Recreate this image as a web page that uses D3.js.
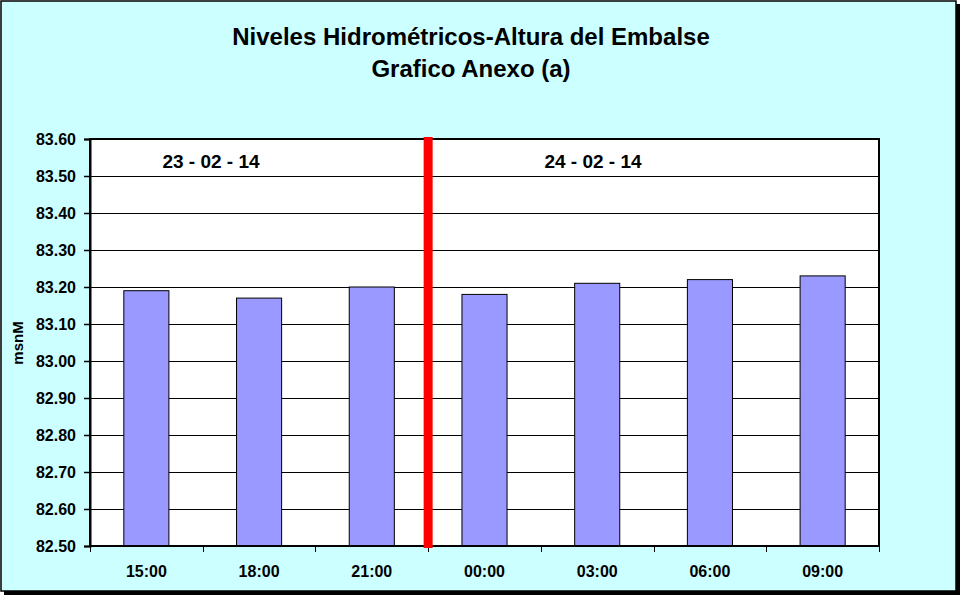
<!DOCTYPE html>
<html><head><meta charset="utf-8">
<script src="https://cdn.jsdelivr.net/npm/d3@7"></script>
<style>html,body{margin:0;padding:0;background:#fff;}svg{display:block;font-family:"Liberation Sans",Arial,sans-serif;}</style>
</head><body>
<svg id="c" width="962" height="597"></svg>
<script>
const categories = ["15:00","18:00","21:00","00:00","03:00","06:00","09:00"];
const values = [83.19, 83.17, 83.20, 83.18, 83.21, 83.22, 83.23];
const yTicks = [82.5,82.6,82.7,82.8,82.9,83.0,83.1,83.2,83.3,83.4,83.5,83.6];
const dateLabels = ["23 - 02 - 14", "24 - 02 - 14"];
const titleLines = ["Niveles Hidrométricos-Altura del Embalse", "Grafico Anexo (a)"];
const yLabel = "msnM";

const svg = d3.select("#c");
svg.append("rect").attr("x",4).attr("y",4).attr("width",956).attr("height",591).attr("fill","#000");
svg.append("rect").attr("x",1).attr("y",1).attr("width",955).attr("height",590).attr("fill","#ccffff").attr("stroke","#000").attr("stroke-width",1.5);

const m = {l:90, r:879, t:139, b:546};
const x = d3.scaleBand().domain(categories).range([m.l, m.r]).paddingInner(0.6).paddingOuter(0.3);
const xb = d3.scaleBand().domain(categories).range([m.l, m.r]);
const y = d3.scaleLinear().domain([82.5, 83.6]).range([m.b, m.t]);

svg.append("rect").attr("x",m.l).attr("y",m.t).attr("width",m.r-m.l).attr("height",m.b-m.t).attr("fill","#fff");

svg.append("g").selectAll("line").data(yTicks.slice(1,-1)).join("line")
  .attr("x1",m.l).attr("x2",m.r).attr("y1",d=>Math.round(y(d))+0.5).attr("y2",d=>Math.round(y(d))+0.5)
  .attr("stroke","#000").attr("stroke-width",1);

svg.append("g").selectAll("rect").data(values).join("rect")
  .attr("x",(d,i)=>x(categories[i])).attr("width",x.bandwidth())
  .attr("y",d=>y(d)).attr("height",d=>y(82.5)-y(d))
  .attr("fill","#9999ff").attr("stroke","#000").attr("stroke-width",1);

svg.append("rect").attr("x",m.l).attr("y",m.t).attr("width",m.r-m.l).attr("height",m.b-m.t)
  .attr("fill","none").attr("stroke","#000").attr("stroke-width",2);

const yAxis = d3.axisLeft(y).tickValues(yTicks).tickFormat(d3.format(".2f")).tickSize(6).tickPadding(8);
const gy = svg.append("g").attr("transform",`translate(${m.l},0)`).call(yAxis);
gy.attr("font-size",null).attr("font-family",null);
gy.select(".domain").attr("stroke-width",2);
gy.selectAll(".tick line").attr("stroke-width",1.5);
gy.selectAll("text").style("font-size","16px").attr("font-weight","bold").attr("fill","#000");

const xAxis = d3.axisBottom(xb).tickSize(0).tickPadding(20);
const gx = svg.append("g").attr("transform",`translate(0,${m.b})`).call(xAxis);
gx.attr("font-size",null).attr("font-family",null);
gx.select(".domain").remove();
gx.selectAll("text").style("font-size","16px").attr("font-weight","bold").attr("fill","#000");
svg.append("g").selectAll("line").data(categories.concat(["end"])).join("line")
  .attr("x1",(d,i)=>Math.round(m.l+i*xb.bandwidth())+0.5).attr("x2",(d,i)=>Math.round(m.l+i*xb.bandwidth())+0.5)
  .attr("y1",m.b).attr("y2",m.b+6).attr("stroke","#000").attr("stroke-width",1);

const sepX = xb(categories[3]);
svg.append("line").attr("x1",sepX).attr("x2",sepX).attr("y1",m.t-2).attr("y2",m.b+2)
  .attr("stroke","#ff0000").attr("stroke-width",9);

svg.append("g").selectAll("text").data(dateLabels).join("text")
  .attr("x",(d,i)=>[211,593][i]).attr("y",168).attr("text-anchor","middle")
  .style("font-size","19px").attr("font-weight","bold").text(d=>d);

svg.append("g").selectAll("text").data(titleLines).join("text")
  .attr("x",471).attr("y",(d,i)=>45+i*32).attr("text-anchor","middle")
  .style("font-size","24px").attr("font-weight","bold").text(d=>d);

svg.append("text").attr("transform","translate(23,343) rotate(-90)").attr("text-anchor","middle")
  .style("font-size","15px").attr("font-weight","bold").text(yLabel);
</script>
</body></html>
